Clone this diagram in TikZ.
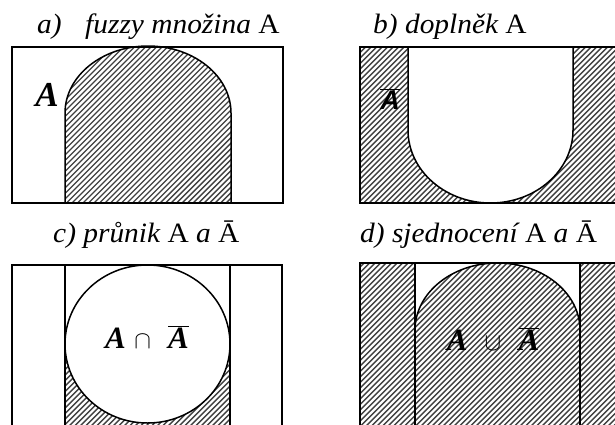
\documentclass[tikz,border=0pt]{standalone}
\usepackage{fontspec}
\setmainfont{Liberation Serif}
\newfontfamily\lsans{Liberation Sans}
\newcommand\hatchfill{\foreach \i in {-450,-444.5,...,630} {\draw[hatchline] (\i,450) -- ++(450,-450);}}
\begin{document}
\begin{tikzpicture}[x=1pt,y=-1pt,
  frame/.style={line width=1.5pt, black},
  thin frame/.style={line width=1.1pt, black},
  hatchline/.style={line width=1.4pt, black!75},
  title/.style={anchor=base west, inner sep=0pt, xscale=1.05, font=\fontsize{28}{32}\selectfont\itshape},
  lbl/.style={inner sep=0pt, anchor=base}]
\useasboundingbox (0,0) rectangle (615,424);
% ---- panel a
\begin{scope}
\clip (65,203) -- (65,113) arc[start angle=180, end angle=360, x radius=83, y radius=67] -- (231,203) -- cycle;
\hatchfill
\end{scope}
\draw[frame] (12,47) rectangle (283,203);
\draw[frame] (65,203) -- (65,113) arc[start angle=180, end angle=360, x radius=83, y radius=67] -- (231,203);
\node[title] (ta) at (37,33) {a)\hspace{0.8em}fuzzy množina {\upshape A}};
\node[lbl] (la) at (47,106) {\fontsize{35}{40}\selectfont\bfseries\itshape A};
% ---- panel b
\begin{scope}
\clip (360,47) rectangle (615,203);
\hatchfill
\end{scope}
\fill[white] (408,47) -- (408,130) arc[start angle=180, end angle=0, x radius=82.5, y radius=73] -- (573,47) -- cycle;
\draw[frame] (360,47) rectangle (620,203);
\draw[frame] (408,47) -- (408,130) arc[start angle=180, end angle=0, x radius=82.5, y radius=73] -- (573,47);
\node[title] (tb) at (373,33) {b) doplněk {\upshape A}};
\node[lbl] (lb) at (390,109) {\fontsize{27}{32}\selectfont$\overline{\mbox{\lsans\bfseries\itshape A}}$};
% ---- panel c
\begin{scope}
\clip (65,344) rectangle (230,430);
\hatchfill
\end{scope}
\fill[white] (147.5,344) ellipse[x radius=82.5, y radius=79];
\draw[frame] (12,265) rectangle (282,440);
\draw[thin frame] (65,265) -- (65,440) (230,265) -- (230,440);
\draw[frame] (147.5,344) ellipse[x radius=82.5, y radius=79];
\node[title] (tc) at (53,242) {c) průnik {\upshape A} a {\upshape Ā}};
\node[lbl] (lc) at (147,348) {\fontsize{31}{36}\selectfont\bfseries\itshape A\;$\cap$\;\;$\overline{\mbox{A}}$};
% ---- panel d
\begin{scope}
\clip (360,263) rectangle (615,424);
\hatchfill
\end{scope}
\fill[white] (415,263) -- (415,330) arc[start angle=180, end angle=360, x radius=82.5, y radius=67] -- (580,263) -- cycle;
\draw[frame] (360,263) rectangle (620,440);
\draw[thin frame] (415,263) -- (415,440) (580,263) -- (580,440);
\draw[frame] (415,330) arc[start angle=180, end angle=360, x radius=82.5, y radius=67];
\node[title] (td) at (360,242) {d) sjednocení {\upshape A} a {\upshape Ā}};
\node[lbl] (ld) at (493,350) {\fontsize{31}{36}\selectfont\bfseries\itshape A\;\;$\cup$\;\;$\overline{\mbox{A}}$};
\end{tikzpicture}
\end{document}
